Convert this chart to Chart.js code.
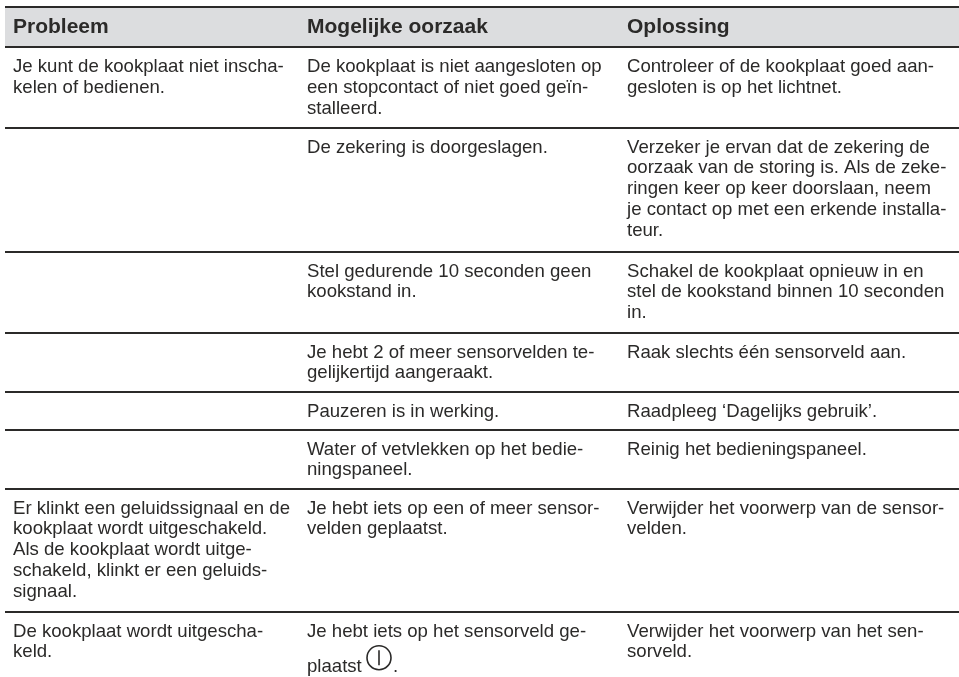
<!DOCTYPE html>
<html>
<head>
<meta charset="utf-8">
<style>
html, body { margin: 0; padding: 0; background: #fff; }
#wrap { width: 959px; height: 677px; }
</style>
<script src="https://cdn.jsdelivr.net/npm/chart.js@4"></script>
</head>
<body>
<div id="wrap"><canvas id="tableChart" width="959" height="677"></canvas></div>
<script>
// column starts and row rules, in table units
const headers = ['Probleem', 'Mogelijke oorzaak', 'Oplossing'];
const columnStarts = [13, 307, 627];
const rowRules = [7, 47.5, 128, 252, 333, 392, 430, 489, 612];
const headerBand = [[7, 47.5]];
const rows = [
  [['Je kunt de kookplaat niet inscha-', 'kelen of bedienen.'],
   ['De kookplaat is niet aangesloten op', 'een stopcontact of niet goed geïn-', 'stalleerd.'],
   ['Controleer of de kookplaat goed aan-', 'gesloten is op het lichtnet.']],
  [[],
   ['De zekering is doorgeslagen.'],
   ['Verzeker je ervan dat de zekering de', 'oorzaak van de storing is. Als de zeke-', 'ringen keer op keer doorslaan, neem', 'je contact op met een erkende installa-', 'teur.']],
  [[],
   ['Stel gedurende 10 seconden geen', 'kookstand in.'],
   ['Schakel de kookplaat opnieuw in en', 'stel de kookstand binnen 10 seconden', 'in.']],
  [[],
   ['Je hebt 2 of meer sensorvelden te-', 'gelijkertijd aangeraakt.'],
   ['Raak slechts één sensorveld aan.']],
  [[],
   ['Pauzeren is in werking.'],
   ['Raadpleeg ‘Dagelijks gebruik’.']],
  [[],
   ['Water of vetvlekken op het bedie-', 'ningspaneel.'],
   ['Reinig het bedieningspaneel.']],
  [['Er klinkt een geluidssignaal en de', 'kookplaat wordt uitgeschakeld.', 'Als de kookplaat wordt uitge-', 'schakeld, klinkt er een geluids-', 'signaal.'],
   ['Je hebt iets op een of meer sensor-', 'velden geplaatst.'],
   ['Verwijder het voorwerp van de sensor-', 'velden.']],
  [['De kookplaat wordt uitgescha-', 'keld.'],
   ['Je hebt iets op het sensorveld ge-'],
   ['Verwijder het voorwerp van het sen-', 'sorveld.']]
];
// this line sits lower because of the symbol in it
const symbolLine = 'plaatst';

const fontName = '"Liberation Sans", Arial, sans-serif';
const textColor = '#2b2a29';

// draws header labels and cell text at positions taken from the scales
const cellText = {
  id: 'cellText',
  afterDatasetsDraw(chart) {
    const { ctx, scales: { x, y } } = chart;
    ctx.save();
    ctx.fillStyle = textColor;
    ctx.textBaseline = 'alphabetic';
    ctx.font = 'bold 21px ' + fontName;
    headers.forEach((h, i) => ctx.fillText(h, x.getPixelForValue(columnStarts[i]), y.getPixelForValue(33)));
    ctx.font = '18.6px ' + fontName;
    rows.forEach((row, r) => {
      row.forEach((lines, c) => {
        lines.forEach((line, l) => {
          ctx.fillText(line, x.getPixelForValue(columnStarts[c]), y.getPixelForValue(rowRules[r + 1] + 24.7 + l * 20.7));
        });
      });
    });
    // power symbol line
    const base = y.getPixelForValue(672);
    const left = x.getPixelForValue(columnStarts[1]);
    ctx.fillText(symbolLine, left, base);
    const sx = x.getPixelForValue(379);
    const sy = y.getPixelForValue(657.7);
    ctx.strokeStyle = textColor;
    ctx.lineWidth = 1.6;
    ctx.beginPath();
    ctx.arc(sx, sy, 12, 0, Math.PI * 2);
    ctx.moveTo(sx, sy - 7.5);
    ctx.lineTo(sx, sy + 7.5);
    ctx.stroke();
    ctx.fillText('.', x.getPixelForValue(393), base);
    ctx.restore();
  }
};

new Chart(document.getElementById('tableChart'), {
  type: 'bar',
  data: {
    labels: ['header'],
    datasets: [{
      data: headerBand,
      backgroundColor: '#dcdddf',
      barPercentage: 1,
      categoryPercentage: 1,
      yAxisID: 'y',
      xAxisID: 'xBand'
    }]
  },
  options: {
    responsive: false,
    animation: false,
    events: [],
    layout: { padding: { left: 5 } },
    plugins: { legend: { display: false }, tooltip: { enabled: false } },
    scales: {
      xBand: { type: 'category', display: false, position: 'bottom' },
      x: { type: 'linear', display: false, offset: false, min: 5, max: 959 },
      y: {
        type: 'linear',
        reverse: true,
        min: 0,
        max: 677,
        position: 'left',
        border: { display: false },
        ticks: { display: false, padding: 0, includeBounds: false },
        afterBuildTicks(axis) { axis.ticks = rowRules.map(v => ({ value: v })); },
        grid: { color: '#2b2a29', lineWidth: 2, drawTicks: false, z: 1 }
      }
    }
  },
  plugins: [cellText]
});
</script>
</body>
</html>
